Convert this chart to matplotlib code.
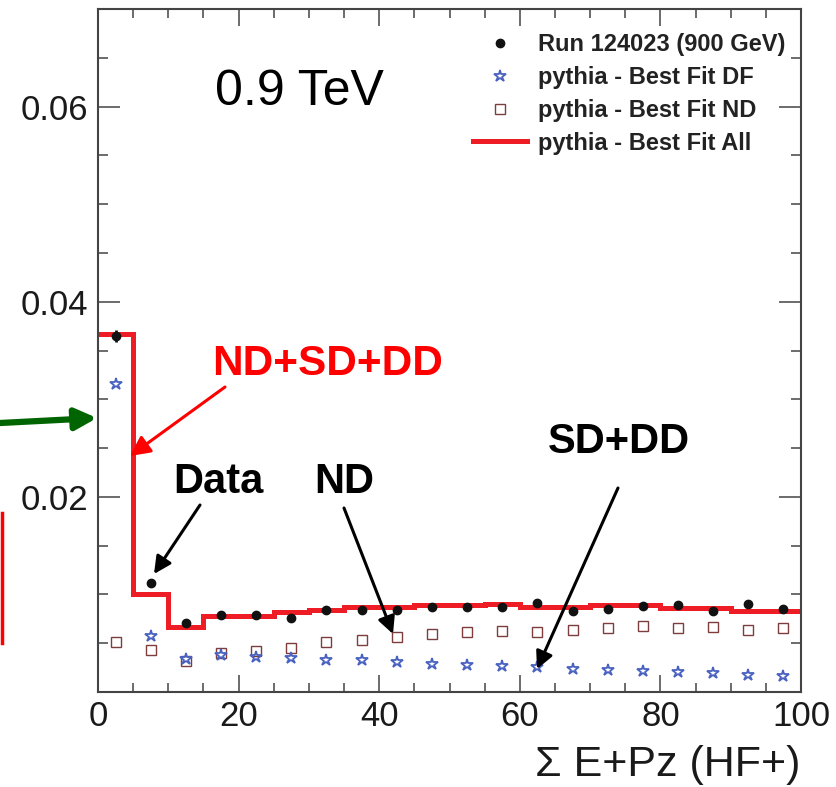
import matplotlib
matplotlib.use("Agg")
import matplotlib.pyplot as plt
import numpy as np
from matplotlib.patches import FancyArrowPatch
from matplotlib.lines import Line2D
from matplotlib.ticker import MultipleLocator, FixedLocator

# ---------------- data ----------------
bin_edges = np.arange(0, 105, 5)
bin_centers = [2.5, 7.5, 12.5, 17.5, 22.5, 27.5, 32.5, 37.5, 42.5, 47.5,
               52.5, 57.5, 62.5, 67.5, 72.5, 77.5, 82.5, 87.5, 92.5, 97.5]
data_vals = [0.03647, 0.01118, 0.00708, 0.00786, 0.00793, 0.00762, 0.00844, 0.00837,
             0.00840, 0.00868, 0.00875, 0.00875, 0.00909, 0.00834, 0.00854, 0.00878,
             0.00888, 0.00827, 0.00906, 0.00851]
data_err = [0.0006, 0.0002, 0.0002, 0.0002, 0.0002, 0.0002, 0.0002, 0.0002, 0.0002, 0.0002,
            0.0002, 0.0002, 0.0002, 0.0002, 0.0002, 0.0002, 0.0002, 0.0002, 0.0002, 0.0002]
df_vals = [0.03152, 0.00570, 0.00338, 0.00383, 0.00355, 0.00349, 0.00331, 0.00324,
           0.00304, 0.00287, 0.00280, 0.00270, 0.00252, 0.00239, 0.00229, 0.00218,
           0.00201, 0.00194, 0.00174, 0.00160]
nd_vals = [0.00509, 0.00427, 0.00314, 0.00400, 0.00424, 0.00451, 0.00509, 0.00536,
           0.00564, 0.00598, 0.00611, 0.00629, 0.00611, 0.00639, 0.00656, 0.00673,
           0.00656, 0.00663, 0.00639, 0.00656]
all_vals = [0.03672, 0.01008, 0.00667, 0.00783, 0.00783, 0.00817, 0.00840, 0.00875,
            0.00875, 0.00895, 0.00895, 0.00906, 0.00875, 0.00875, 0.00895, 0.00895,
            0.00860, 0.00860, 0.00830, 0.00830]
legend_labels = ["Run 124023 (900 GeV)", "pythia - Best Fit DF",
                 "pythia - Best Fit ND", "pythia - Best Fit All"]
x_ticks = [0, 20, 40, 60, 80, 100]
y_ticks = [0.02, 0.04, 0.06]
y_tick_labels = ["0.02", "0.04", "0.06"]

# ---------------- figure ----------------
W, H = 836, 787
fig = plt.figure(figsize=(W / 100, H / 100), dpi=100)
plt.rcParams['font.family'] = ['Liberation Sans', 'DejaVu Sans']

L, R, T, B = 98, 801, 9, 692
ax = fig.add_axes([L / W, 1 - B / H, (R - L) / W, (B - T) / H])

def fp(x, y):
    return (x / W, 1 - y / H)

RED = '#ee1c25'
h_all = ax.stairs(all_vals, bin_edges, color=RED, lw=3.6, baseline=None, zorder=2)
h_nd, = ax.plot(bin_centers, nd_vals, ls='none', marker='s', ms=7, mfc='white',
                mec='#7e3d3d', mew=1.0, zorder=3)
h_df, = ax.plot(bin_centers, df_vals, ls='none', marker='*', ms=9, mfc='none',
                mec='#4a62c0', mew=1.3, zorder=3)
h_data = ax.errorbar(bin_centers, data_vals, yerr=data_err, fmt='o', ms=6, color='#111111',
                     ecolor='#111111', elinewidth=2, capsize=0, zorder=4)

ax.set_xlim(0, 100)
ax.set_ylim(0, 0.07)

for s in ax.spines.values():
    s.set_linewidth(1.5)
    s.set_color('#444444')

ax.xaxis.set_major_locator(FixedLocator(x_ticks))
ax.xaxis.set_minor_locator(MultipleLocator(5))
ax.yaxis.set_major_locator(FixedLocator(y_ticks))
ax.yaxis.set_minor_locator(MultipleLocator(0.005))
ax.set_yticklabels(y_tick_labels)
ax.tick_params(which='both', direction='in', top=True, right=True, color='#444444', width=1.1)
ax.tick_params(axis='x', which='major', length=12, labelsize=25, pad=6, labelcolor='#1a1a1a')
ax.tick_params(axis='x', which='minor', length=6.5)
ax.tick_params(axis='y', which='major', length=15.5, labelsize=25, pad=7, labelcolor='#1a1a1a')
ax.tick_params(axis='y', which='minor', length=7)

# x axis label
fig.text(*fp(800, 776), "Σ E+Pz (HF+)", ha='right', va='baseline', fontsize=31, color='#1a1a1a')

# legend
leg = ax.legend([h_data[0], h_df, h_nd, Line2D([], [], color=RED, lw=3.6)], legend_labels,
                loc='upper right',
                bbox_to_anchor=fp(785, 33), bbox_transform=fig.transFigure,
                frameon=False, prop={'weight': 'bold', 'size': 17},
                handlelength=2.3, handletextpad=0.45, labelspacing=0.42,
                borderpad=0, borderaxespad=0)
for t in leg.get_texts():
    t.set_color('#222222')

# texts
fig.text(*fp(215, 105), "0.9 TeV", ha='left', va='baseline', fontsize=36, color='black')
fig.text(*fp(212, 375), "ND+SD+DD", ha='left', va='baseline', fontsize=30.5,
         color='#ff0000', fontweight='bold')
fig.text(*fp(173, 493), "Data", ha='left', va='baseline', fontsize=30, fontweight='bold')
fig.text(*fp(314, 493), "ND", ha='left', va='baseline', fontsize=30, fontweight='bold')
fig.text(*fp(548, 453), "SD+DD", ha='left', va='baseline', fontsize=30, fontweight='bold')

def arrow(p0, p1, color, lw, ms):
    a = FancyArrowPatch(fp(*p0), fp(*p1), transform=fig.transFigure,
                        arrowstyle='-|>', mutation_scale=ms, color=color, lw=lw,
                        shrinkA=0, shrinkB=0)
    fig.add_artist(a)

arrow((225, 387), (130, 456), '#ff0000', 2.2, 30)
arrow((200, 505), (154, 574), 'black', 2.2, 26)
arrow((344, 508), (393, 634), 'black', 2.2, 26)
arrow((618, 488), (537, 669), 'black', 2.2, 26)
arrow((0, 423), (97, 418), '#006400', 4.5, 32)

fig.add_artist(Line2D([1.5 / W, 1.5 / W], [1 - 513 / H, 1 - 643 / H],
                      transform=fig.transFigure, color='#ff0000', lw=2.5))

fig.savefig("out.png", dpi=100)
